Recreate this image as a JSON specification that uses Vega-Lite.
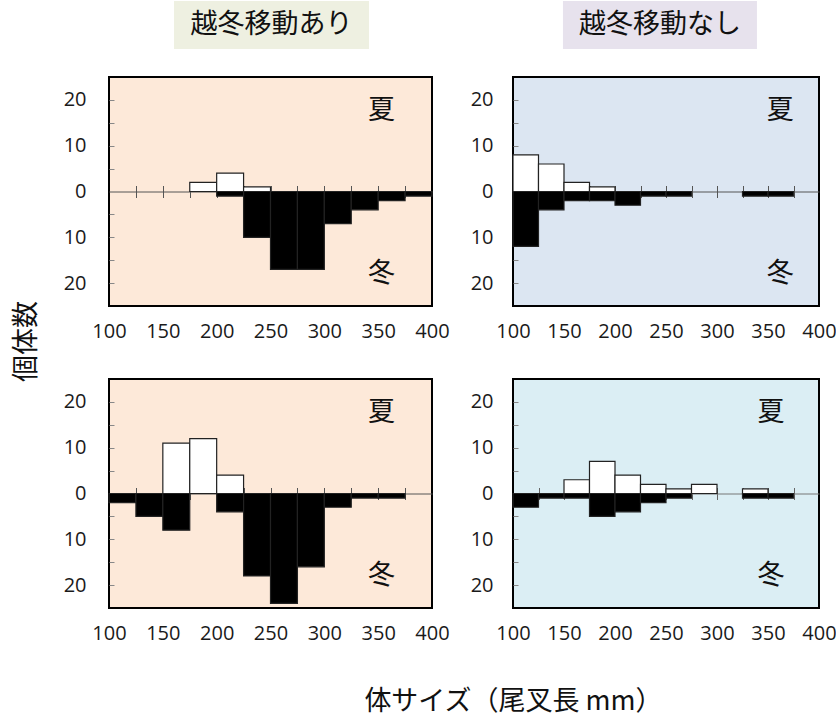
{
  "$schema": "https://vega.github.io/schema/vega-lite/v6.json",
  "background": "white",
  "padding": {"left": 11, "top": 1, "right": 5, "bottom": 4},
  "columns": 2,
  "bounds": "flush",
  "align": "each",
  "spacing": {"row": 28, "column": 81},
  "config": {"view": {"stroke": null}},
  "datasets": {
    "bins": [
      {"group": "越冬移動あり", "row": 1, "season": "夏", "bin_start": 175, "bin_end": 200, "value": 2},
      {"group": "越冬移動あり", "row": 1, "season": "夏", "bin_start": 200, "bin_end": 225, "value": 4},
      {"group": "越冬移動あり", "row": 1, "season": "夏", "bin_start": 225, "bin_end": 250, "value": 1},
      {"group": "越冬移動あり", "row": 1, "season": "冬", "bin_start": 200, "bin_end": 225, "value": -1},
      {"group": "越冬移動あり", "row": 1, "season": "冬", "bin_start": 225, "bin_end": 250, "value": -10},
      {"group": "越冬移動あり", "row": 1, "season": "冬", "bin_start": 250, "bin_end": 275, "value": -17},
      {"group": "越冬移動あり", "row": 1, "season": "冬", "bin_start": 275, "bin_end": 300, "value": -17},
      {"group": "越冬移動あり", "row": 1, "season": "冬", "bin_start": 300, "bin_end": 325, "value": -7},
      {"group": "越冬移動あり", "row": 1, "season": "冬", "bin_start": 325, "bin_end": 350, "value": -4},
      {"group": "越冬移動あり", "row": 1, "season": "冬", "bin_start": 350, "bin_end": 375, "value": -2},
      {"group": "越冬移動あり", "row": 1, "season": "冬", "bin_start": 375, "bin_end": 400, "value": -1},

      {"group": "越冬移動なし", "row": 1, "season": "夏", "bin_start": 100, "bin_end": 125, "value": 8},
      {"group": "越冬移動なし", "row": 1, "season": "夏", "bin_start": 125, "bin_end": 150, "value": 6},
      {"group": "越冬移動なし", "row": 1, "season": "夏", "bin_start": 150, "bin_end": 175, "value": 2},
      {"group": "越冬移動なし", "row": 1, "season": "夏", "bin_start": 175, "bin_end": 200, "value": 1},
      {"group": "越冬移動なし", "row": 1, "season": "冬", "bin_start": 100, "bin_end": 125, "value": -12},
      {"group": "越冬移動なし", "row": 1, "season": "冬", "bin_start": 125, "bin_end": 150, "value": -4},
      {"group": "越冬移動なし", "row": 1, "season": "冬", "bin_start": 150, "bin_end": 175, "value": -2},
      {"group": "越冬移動なし", "row": 1, "season": "冬", "bin_start": 175, "bin_end": 200, "value": -2},
      {"group": "越冬移動なし", "row": 1, "season": "冬", "bin_start": 200, "bin_end": 225, "value": -3},
      {"group": "越冬移動なし", "row": 1, "season": "冬", "bin_start": 225, "bin_end": 250, "value": -1},
      {"group": "越冬移動なし", "row": 1, "season": "冬", "bin_start": 250, "bin_end": 275, "value": -1},
      {"group": "越冬移動なし", "row": 1, "season": "冬", "bin_start": 325, "bin_end": 350, "value": -1},
      {"group": "越冬移動なし", "row": 1, "season": "冬", "bin_start": 350, "bin_end": 375, "value": -1},

      {"group": "越冬移動あり", "row": 2, "season": "夏", "bin_start": 150, "bin_end": 175, "value": 11},
      {"group": "越冬移動あり", "row": 2, "season": "夏", "bin_start": 175, "bin_end": 200, "value": 12},
      {"group": "越冬移動あり", "row": 2, "season": "夏", "bin_start": 200, "bin_end": 225, "value": 4},
      {"group": "越冬移動あり", "row": 2, "season": "冬", "bin_start": 100, "bin_end": 125, "value": -2},
      {"group": "越冬移動あり", "row": 2, "season": "冬", "bin_start": 125, "bin_end": 150, "value": -5},
      {"group": "越冬移動あり", "row": 2, "season": "冬", "bin_start": 150, "bin_end": 175, "value": -8},
      {"group": "越冬移動あり", "row": 2, "season": "冬", "bin_start": 200, "bin_end": 225, "value": -4},
      {"group": "越冬移動あり", "row": 2, "season": "冬", "bin_start": 225, "bin_end": 250, "value": -18},
      {"group": "越冬移動あり", "row": 2, "season": "冬", "bin_start": 250, "bin_end": 275, "value": -24},
      {"group": "越冬移動あり", "row": 2, "season": "冬", "bin_start": 275, "bin_end": 300, "value": -16},
      {"group": "越冬移動あり", "row": 2, "season": "冬", "bin_start": 300, "bin_end": 325, "value": -3},
      {"group": "越冬移動あり", "row": 2, "season": "冬", "bin_start": 325, "bin_end": 350, "value": -1},
      {"group": "越冬移動あり", "row": 2, "season": "冬", "bin_start": 350, "bin_end": 375, "value": -1},

      {"group": "越冬移動なし", "row": 2, "season": "夏", "bin_start": 150, "bin_end": 175, "value": 3},
      {"group": "越冬移動なし", "row": 2, "season": "夏", "bin_start": 175, "bin_end": 200, "value": 7},
      {"group": "越冬移動なし", "row": 2, "season": "夏", "bin_start": 200, "bin_end": 225, "value": 4},
      {"group": "越冬移動なし", "row": 2, "season": "夏", "bin_start": 225, "bin_end": 250, "value": 2},
      {"group": "越冬移動なし", "row": 2, "season": "夏", "bin_start": 250, "bin_end": 275, "value": 1},
      {"group": "越冬移動なし", "row": 2, "season": "夏", "bin_start": 275, "bin_end": 300, "value": 2},
      {"group": "越冬移動なし", "row": 2, "season": "夏", "bin_start": 325, "bin_end": 350, "value": 1},
      {"group": "越冬移動なし", "row": 2, "season": "冬", "bin_start": 100, "bin_end": 125, "value": -3},
      {"group": "越冬移動なし", "row": 2, "season": "冬", "bin_start": 125, "bin_end": 150, "value": -1},
      {"group": "越冬移動なし", "row": 2, "season": "冬", "bin_start": 150, "bin_end": 175, "value": -1},
      {"group": "越冬移動なし", "row": 2, "season": "冬", "bin_start": 175, "bin_end": 200, "value": -5},
      {"group": "越冬移動なし", "row": 2, "season": "冬", "bin_start": 200, "bin_end": 225, "value": -4},
      {"group": "越冬移動なし", "row": 2, "season": "冬", "bin_start": 225, "bin_end": 250, "value": -2},
      {"group": "越冬移動なし", "row": 2, "season": "冬", "bin_start": 250, "bin_end": 275, "value": -1},
      {"group": "越冬移動なし", "row": 2, "season": "冬", "bin_start": 325, "bin_end": 350, "value": -1},
      {"group": "越冬移動なし", "row": 2, "season": "冬", "bin_start": 350, "bin_end": 375, "value": -1}
    ]
  },
  "concat": [
    {
      "width": 323, "height": 48,
      "view": {"stroke": null},
      "data": {"values": [{"group": "越冬移動あり"}]},
      "encoding": {
        "x": {"field": "group", "type": "nominal", "axis": null,
              "scale": {"paddingInner": 0, "paddingOuter": 0.328, "align": 0.508}}
      },
      "layer": [
        {"mark": {"type": "bar", "color": "#eef0e1"}},
        {"mark": {"type": "text", "font": "Noto Sans CJK JP", "fontSize": 27, "color": "#111111"},
         "encoding": {"text": {"field": "group"}}}
      ]
    },
    {
      "width": 306, "height": 48,
      "view": {"stroke": null},
      "data": {"values": [{"group": "越冬移動なし"}]},
      "encoding": {
        "x": {"field": "group", "type": "nominal", "axis": null,
              "scale": {"paddingInner": 0, "paddingOuter": 0.2887, "align": 0.446}}
      },
      "layer": [
        {"mark": {"type": "bar", "color": "#e7e2ed"}},
        {"mark": {"type": "text", "font": "Noto Sans CJK JP", "fontSize": 27, "color": "#111111"},
         "encoding": {"text": {"field": "group"}}}
      ]
    },
    {
      "width": 323, "height": 229,
      "view": {"fill": "#fde9d9", "stroke": "#000000", "strokeWidth": 2},
      "resolve": {"axis": {"x": "independent", "y": "independent"}},
      "layer": [
        {
          "data": {"name": "bins"},
          "transform": [{"filter": "datum.group == '越冬移動あり' && datum.row == 1"}],
          "mark": {"type": "rect", "stroke": "#222222", "strokeWidth": 1.2},
          "encoding": {
            "x": {"field": "bin_start", "type": "quantitative",
                  "scale": {"domain": [100, 400], "nice": false, "zero": false},
                  "axis": {"orient": "bottom", "values": [100, 150, 200, 250, 300, 350, 400], "ticks": false, "domain": false, "grid": false,
                           "labelPadding": 15, "labelFontSize": 20, "labelFont": "Open Sans", "labelColor": "#1a1a1a", "labelFlush": false, "labelOverlap": false, "title": null}},
            "x2": {"field": "bin_end"},
            "y": {"field": "value", "type": "quantitative",
                  "scale": {"domain": [-25, 25], "nice": false, "zero": false},
                  "axis": {"orient": "left", "values": [-20, -10, 0, 10, 20],
                           "labelExpr": "format(abs(datum.value), 'd')",
                           "ticks": false, "domain": false, "grid": false,
                           "labelPadding": 23, "labelFontSize": 20, "labelFont": "Open Sans", "labelColor": "#1a1a1a", "labelOverlap": false,
                           "title": "個体数", "titleX": -83, "titleY": 264, "titleAngle": 270, "titleBaseline": "middle", "titleAlign": "center",
                           "titleFont": "Noto Sans CJK JP", "titleFontSize": 27, "titleFontWeight": "normal", "titleColor": "#111111"}},
            "y2": {"datum": 0},
            "fill": {"field": "season", "type": "nominal", "scale": {"domain": ["夏", "冬"], "range": ["#ffffff", "#000000"]}, "legend": null}
          }
        },
        {
          "data": {"values": [{}]},
          "mark": {"type": "text", "text": "夏", "font": "Noto Sans CJK JP", "fontSize": 27, "color": "#111111"},
          "encoding": {
            "x": {"datum": 353, "type": "quantitative",
                  "axis": {"orient": "bottom", "offset": -114.5, "values": [125, 150, 175, 200, 225, 250, 275, 300, 325, 350, 375], "labels": false, "tickSize": 6, "tickColor": "#555555", "domain": true, "domainColor": "#555555", "domainWidth": 1, "grid": false, "title": null}},
            "y": {"datum": 17.5, "type": "quantitative",
                  "axis": {"orient": "right", "offset": -323, "values": [-20, -15, -10, -5, 5, 10, 15, 20], "labels": false, "tickSize": 5, "tickColor": "#888888", "domain": false, "grid": false, "title": null}}
          }
        },
        {
          "data": {"values": [{}]},
          "mark": {"type": "text", "text": "冬", "font": "Noto Sans CJK JP", "fontSize": 27, "color": "#111111"},
          "encoding": {
            "x": {"datum": 353, "type": "quantitative",
                  "axis": {"orient": "top", "offset": -114.5, "values": [125, 150, 175, 200, 225, 250, 275, 300, 325, 350, 375], "labels": false, "tickSize": 6, "tickColor": "#555555", "domain": false, "grid": false, "title": null}},
            "y": {"datum": -18, "type": "quantitative", "axis": null}
          }
        }
      ]
    },
    {
      "width": 306, "height": 229,
      "view": {"fill": "#dce6f2", "stroke": "#000000", "strokeWidth": 2},
      "resolve": {"axis": {"x": "independent", "y": "independent"}},
      "layer": [
        {
          "data": {"name": "bins"},
          "transform": [{"filter": "datum.group == '越冬移動なし' && datum.row == 1"}],
          "mark": {"type": "rect", "stroke": "#222222", "strokeWidth": 1.2},
          "encoding": {
            "x": {"field": "bin_start", "type": "quantitative",
                  "scale": {"domain": [100, 400], "nice": false, "zero": false},
                  "axis": {"orient": "bottom", "values": [100, 150, 200, 250, 300, 350, 400], "ticks": false, "domain": false, "grid": false,
                           "labelPadding": 15, "labelFontSize": 20, "labelFont": "Open Sans", "labelColor": "#1a1a1a", "labelFlush": false, "labelOverlap": false, "title": null}},
            "x2": {"field": "bin_end"},
            "y": {"field": "value", "type": "quantitative",
                  "scale": {"domain": [-25, 25], "nice": false, "zero": false},
                  "axis": {"orient": "left", "values": [-20, -10, 0, 10, 20],
                           "labelExpr": "format(abs(datum.value), 'd')",
                           "ticks": false, "domain": false, "grid": false,
                           "labelPadding": 20, "labelFontSize": 20, "labelFont": "Open Sans", "labelColor": "#1a1a1a", "labelOverlap": false,
                           "title": null}},
            "y2": {"datum": 0},
            "fill": {"field": "season", "type": "nominal", "scale": {"domain": ["夏", "冬"], "range": ["#ffffff", "#000000"]}, "legend": null}
          }
        },
        {
          "data": {"values": [{}]},
          "mark": {"type": "text", "text": "夏", "font": "Noto Sans CJK JP", "fontSize": 27, "color": "#111111"},
          "encoding": {
            "x": {"datum": 362, "type": "quantitative",
                  "axis": {"orient": "bottom", "offset": -114.5, "values": [125, 150, 175, 200, 225, 250, 275, 300, 325, 350, 375], "labels": false, "tickSize": 6, "tickColor": "#555555", "domain": true, "domainColor": "#555555", "domainWidth": 1, "grid": false, "title": null}},
            "y": {"datum": 17.5, "type": "quantitative",
                  "axis": {"orient": "right", "offset": -306, "values": [-20, -15, -10, -5, 5, 10, 15, 20], "labels": false, "tickSize": 5, "tickColor": "#888888", "domain": false, "grid": false, "title": null}}
          }
        },
        {
          "data": {"values": [{}]},
          "mark": {"type": "text", "text": "冬", "font": "Noto Sans CJK JP", "fontSize": 27, "color": "#111111"},
          "encoding": {
            "x": {"datum": 362, "type": "quantitative",
                  "axis": {"orient": "top", "offset": -114.5, "values": [125, 150, 175, 200, 225, 250, 275, 300, 325, 350, 375], "labels": false, "tickSize": 6, "tickColor": "#555555", "domain": false, "grid": false, "title": null}},
            "y": {"datum": -18, "type": "quantitative", "axis": null}
          }
        }
      ]
    },
    {
      "width": 323, "height": 17,
      "view": {"stroke": null},
      "data": {"values": []},
      "mark": "point"
    },
    {
      "width": 306, "height": 17,
      "view": {"stroke": null},
      "data": {"values": []},
      "mark": "point"
    },
    {
      "width": 323, "height": 229,
      "view": {"fill": "#fde9d9", "stroke": "#000000", "strokeWidth": 2},
      "resolve": {"axis": {"x": "independent", "y": "independent"}},
      "layer": [
        {
          "data": {"name": "bins"},
          "transform": [{"filter": "datum.group == '越冬移動あり' && datum.row == 2"}],
          "mark": {"type": "rect", "stroke": "#222222", "strokeWidth": 1.2},
          "encoding": {
            "x": {"field": "bin_start", "type": "quantitative",
                  "scale": {"domain": [100, 400], "nice": false, "zero": false},
                  "axis": {"orient": "bottom", "values": [100, 150, 200, 250, 300, 350, 400], "ticks": false, "domain": false, "grid": false,
                           "labelPadding": 15, "labelFontSize": 20, "labelFont": "Open Sans", "labelColor": "#1a1a1a", "labelFlush": false, "labelOverlap": false,
                           "title": "体サイズ（尾叉長 mm）", "titleX": 404, "titleY": 93, "titleBaseline": "middle", "titleAlign": "center",
                           "titleFont": "Noto Sans CJK JP", "titleFontSize": 27, "titleFontWeight": "normal", "titleColor": "#111111"}},
            "x2": {"field": "bin_end"},
            "y": {"field": "value", "type": "quantitative",
                  "scale": {"domain": [-25, 25], "nice": false, "zero": false},
                  "axis": {"orient": "left", "values": [-20, -10, 0, 10, 20],
                           "labelExpr": "format(abs(datum.value), 'd')",
                           "ticks": false, "domain": false, "grid": false,
                           "labelPadding": 23, "labelFontSize": 20, "labelFont": "Open Sans", "labelColor": "#1a1a1a", "labelOverlap": false,
                           "title": null}},
            "y2": {"datum": 0},
            "fill": {"field": "season", "type": "nominal", "scale": {"domain": ["夏", "冬"], "range": ["#ffffff", "#000000"]}, "legend": null}
          }
        },
        {
          "data": {"values": [{}]},
          "mark": {"type": "text", "text": "夏", "font": "Noto Sans CJK JP", "fontSize": 27, "color": "#111111"},
          "encoding": {
            "x": {"datum": 353, "type": "quantitative",
                  "axis": {"orient": "bottom", "offset": -114.5, "values": [125, 150, 175, 200, 225, 250, 275, 300, 325, 350, 375], "labels": false, "tickSize": 6, "tickColor": "#555555", "domain": true, "domainColor": "#555555", "domainWidth": 1, "grid": false, "title": null}},
            "y": {"datum": 17.5, "type": "quantitative",
                  "axis": {"orient": "right", "offset": -323, "values": [-20, -15, -10, -5, 5, 10, 15, 20], "labels": false, "tickSize": 5, "tickColor": "#888888", "domain": false, "grid": false, "title": null}}
          }
        },
        {
          "data": {"values": [{}]},
          "mark": {"type": "text", "text": "冬", "font": "Noto Sans CJK JP", "fontSize": 27, "color": "#111111"},
          "encoding": {
            "x": {"datum": 353, "type": "quantitative",
                  "axis": {"orient": "top", "offset": -114.5, "values": [125, 150, 175, 200, 225, 250, 275, 300, 325, 350, 375], "labels": false, "tickSize": 6, "tickColor": "#555555", "domain": false, "grid": false, "title": null}},
            "y": {"datum": -18, "type": "quantitative", "axis": null}
          }
        }
      ]
    },
    {
      "width": 306, "height": 229,
      "view": {"fill": "#dbeef4", "stroke": "#000000", "strokeWidth": 2},
      "resolve": {"axis": {"x": "independent", "y": "independent"}},
      "layer": [
        {
          "data": {"name": "bins"},
          "transform": [{"filter": "datum.group == '越冬移動なし' && datum.row == 2"}],
          "mark": {"type": "rect", "stroke": "#222222", "strokeWidth": 1.2},
          "encoding": {
            "x": {"field": "bin_start", "type": "quantitative",
                  "scale": {"domain": [100, 400], "nice": false, "zero": false},
                  "axis": {"orient": "bottom", "values": [100, 150, 200, 250, 300, 350, 400], "ticks": false, "domain": false, "grid": false,
                           "labelPadding": 15, "labelFontSize": 20, "labelFont": "Open Sans", "labelColor": "#1a1a1a", "labelFlush": false, "labelOverlap": false, "title": null}},
            "x2": {"field": "bin_end"},
            "y": {"field": "value", "type": "quantitative",
                  "scale": {"domain": [-25, 25], "nice": false, "zero": false},
                  "axis": {"orient": "left", "values": [-20, -10, 0, 10, 20],
                           "labelExpr": "format(abs(datum.value), 'd')",
                           "ticks": false, "domain": false, "grid": false,
                           "labelPadding": 20, "labelFontSize": 20, "labelFont": "Open Sans", "labelColor": "#1a1a1a", "labelOverlap": false,
                           "title": null}},
            "y2": {"datum": 0},
            "fill": {"field": "season", "type": "nominal", "scale": {"domain": ["夏", "冬"], "range": ["#ffffff", "#000000"]}, "legend": null}
          }
        },
        {
          "data": {"values": [{}]},
          "mark": {"type": "text", "text": "夏", "font": "Noto Sans CJK JP", "fontSize": 27, "color": "#111111"},
          "encoding": {
            "x": {"datum": 353, "type": "quantitative",
                  "axis": {"orient": "bottom", "offset": -114.5, "values": [125, 150, 175, 200, 225, 250, 275, 300, 325, 350, 375], "labels": false, "tickSize": 6, "tickColor": "#666666", "domain": true, "domainColor": "#777777", "domainWidth": 1, "grid": false, "title": null}},
            "y": {"datum": 17.5, "type": "quantitative",
                  "axis": {"orient": "right", "offset": -306, "values": [-20, -15, -10, -5, 5, 10, 15, 20], "labels": false, "tickSize": 5, "tickColor": "#888888", "domain": false, "grid": false, "title": null}}
          }
        },
        {
          "data": {"values": [{}]},
          "mark": {"type": "text", "text": "冬", "font": "Noto Sans CJK JP", "fontSize": 27, "color": "#111111"},
          "encoding": {
            "x": {"datum": 353, "type": "quantitative",
                  "axis": {"orient": "top", "offset": -114.5, "values": [125, 150, 175, 200, 225, 250, 275, 300, 325, 350, 375], "labels": false, "tickSize": 6, "tickColor": "#666666", "domain": false, "grid": false, "title": null}},
            "y": {"datum": -18, "type": "quantitative", "axis": null}
          }
        }
      ]
    }
  ]
}
